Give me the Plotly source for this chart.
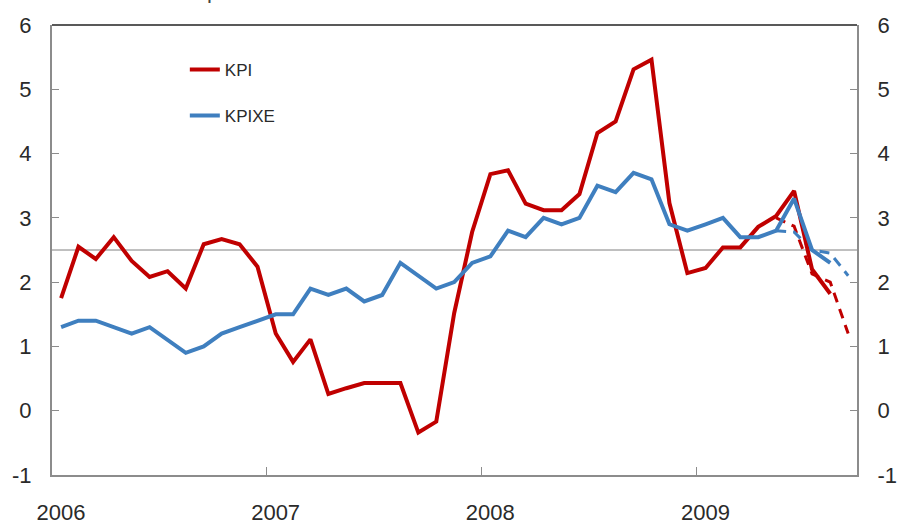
import plotly.graph_objects as go

# Monthly categories Jan 2006 - Sep 2009
months = [f"{y}-{m:02d}-01" for y in range(2006, 2010) for m in range(1, 13)][:45]

kpi = [1.75, 2.55, 2.36, 2.70, 2.33, 2.08, 2.17, 1.90, 2.59, 2.67, 2.59, 2.24,
       1.20, 0.76, 1.11, 0.26, 0.35, 0.43, 0.43, 0.43, -0.34, -0.17, 1.52, 2.78,
       3.68, 3.74, 3.22, 3.12, 3.12, 3.37, 4.32, 4.50, 5.31, 5.46, 3.23, 2.14,
       2.22, 2.54, 2.54, 2.86, 3.03, 3.42, 2.20, 1.82]
kpixe = [1.3, 1.4, 1.4, 1.3, 1.2, 1.3, 1.1, 0.9, 1.0, 1.2, 1.3, 1.4,
         1.5, 1.5, 1.9, 1.8, 1.9, 1.7, 1.8, 2.3, 2.1, 1.9, 2.0, 2.3,
         2.4, 2.8, 2.7, 3.0, 2.9, 3.0, 3.5, 3.4, 3.7, 3.6, 2.9, 2.8,
         2.9, 3.0, 2.7, 2.7, 2.8, 3.3, 2.5, 2.3]
proj_months = months[40:45]
kpi_proj = [3.0, 2.87, 2.13, 2.0, 1.2]
kpixe_proj = [2.8, 2.78, 2.5, 2.45, 2.1]

year_ticks = ["2006-01-01", "2007-01-01", "2008-01-01", "2009-01-01"]
year_labels = ["2006", "2007", "2008", "2009"]
y_ticks = [-1, 0, 1, 2, 3, 4, 5, 6]
y_labels = ["-1", "0", "1", "2", "3", "4", "5", "6"]

RED = "#c00000"
BLUE = "#3f7fbf"
AXIS = "#8c8c8c"
FONT = "Liberation Sans"
TEXT = "#2a2a2a"

fig = go.Figure()
fig.add_trace(go.Scatter(x=proj_months, y=kpi_proj, mode="lines", showlegend=False,
                         line=dict(color=RED, width=3, dash="10px,7px"),
                         xperiod="M1", xperiodalignment="middle"))
fig.add_trace(go.Scatter(x=proj_months, y=kpixe_proj, mode="lines", showlegend=False,
                         line=dict(color=BLUE, width=3, dash="10px,7px"),
                         xperiod="M1", xperiodalignment="middle"))
fig.add_trace(go.Scatter(x=months[:len(kpi)], y=kpi, mode="lines", name="KPI",
                         line=dict(color=RED, width=4), legend="legend",
                         xperiod="M1", xperiodalignment="middle"))
fig.add_trace(go.Scatter(x=months[:len(kpixe)], y=kpixe, mode="lines", name="KPIXE",
                         line=dict(color=BLUE, width=4), legend="legend2",
                         xperiod="M1", xperiodalignment="middle"))

fig.add_shape(type="line", xref="paper", yref="y", x0=0, x1=1, y0=2.5, y1=2.5,
              line=dict(color="#808080", width=1), layer="below")
fig.add_shape(type="line", xref="paper", yref="paper", x0=0, x1=1, y0=1, y1=1,
              line=dict(color="#595959", width=2))

# Title cut off by the top edge: only the descender of "p" shows
fig.add_annotation(text="p", xref="paper", yref="paper", x=0.2, y=1.045,
                   xanchor="center", yanchor="bottom", showarrow=False,
                   font=dict(family=FONT, size=22, color="#444"))

legend_common = dict(xanchor="left", yanchor="middle", bgcolor="rgba(0,0,0,0)",
                     font=dict(family=FONT, size=17, color=TEXT), borderwidth=0)
yax_common = dict(range=[-1, 6], tickvals=y_ticks, ticktext=y_labels,
                  ticks="inside", ticklen=7, tickwidth=1, tickcolor=AXIS,
                  showline=True, linecolor=AXIS, linewidth=2,
                  showgrid=False, zeroline=False, automargin=False,
                  ticklabelstandoff=14)
fig.update_layout(
    width=899, height=525,
    margin=dict(l=52, r=42, t=25, b=50),
    plot_bgcolor="white", paper_bgcolor="white",
    font=dict(family=FONT, size=22, color=TEXT),
    legend=dict(x=0.165, y=0.90, **legend_common),
    legend2=dict(x=0.165, y=0.798, **legend_common),
    xaxis=dict(type="date", range=["2006-01-01", "2009-10-01"],
               tickvals=year_ticks, ticktext=year_labels,
               ticks="inside", ticklen=8, tickwidth=1, tickcolor=AXIS,
               showline=True, linecolor=AXIS, linewidth=2,
               showgrid=False, zeroline=False, automargin=False,
               ticklabelshift=9, ticklabelstandoff=17,
               tickfont=dict(size=22)),
    yaxis=dict(**yax_common),
    yaxis2=dict(**yax_common, overlaying="y", side="right"),
)
# invisible trace to activate the right axis
fig.add_trace(go.Scatter(x=[months[0]], y=[None], yaxis="y2", showlegend=False,
                         hoverinfo="skip"))

fig.write_html("out.html", config={"displayModeBar": False},
               post_script="document.body.style.margin='0';document.body.style.overflow='hidden';")
